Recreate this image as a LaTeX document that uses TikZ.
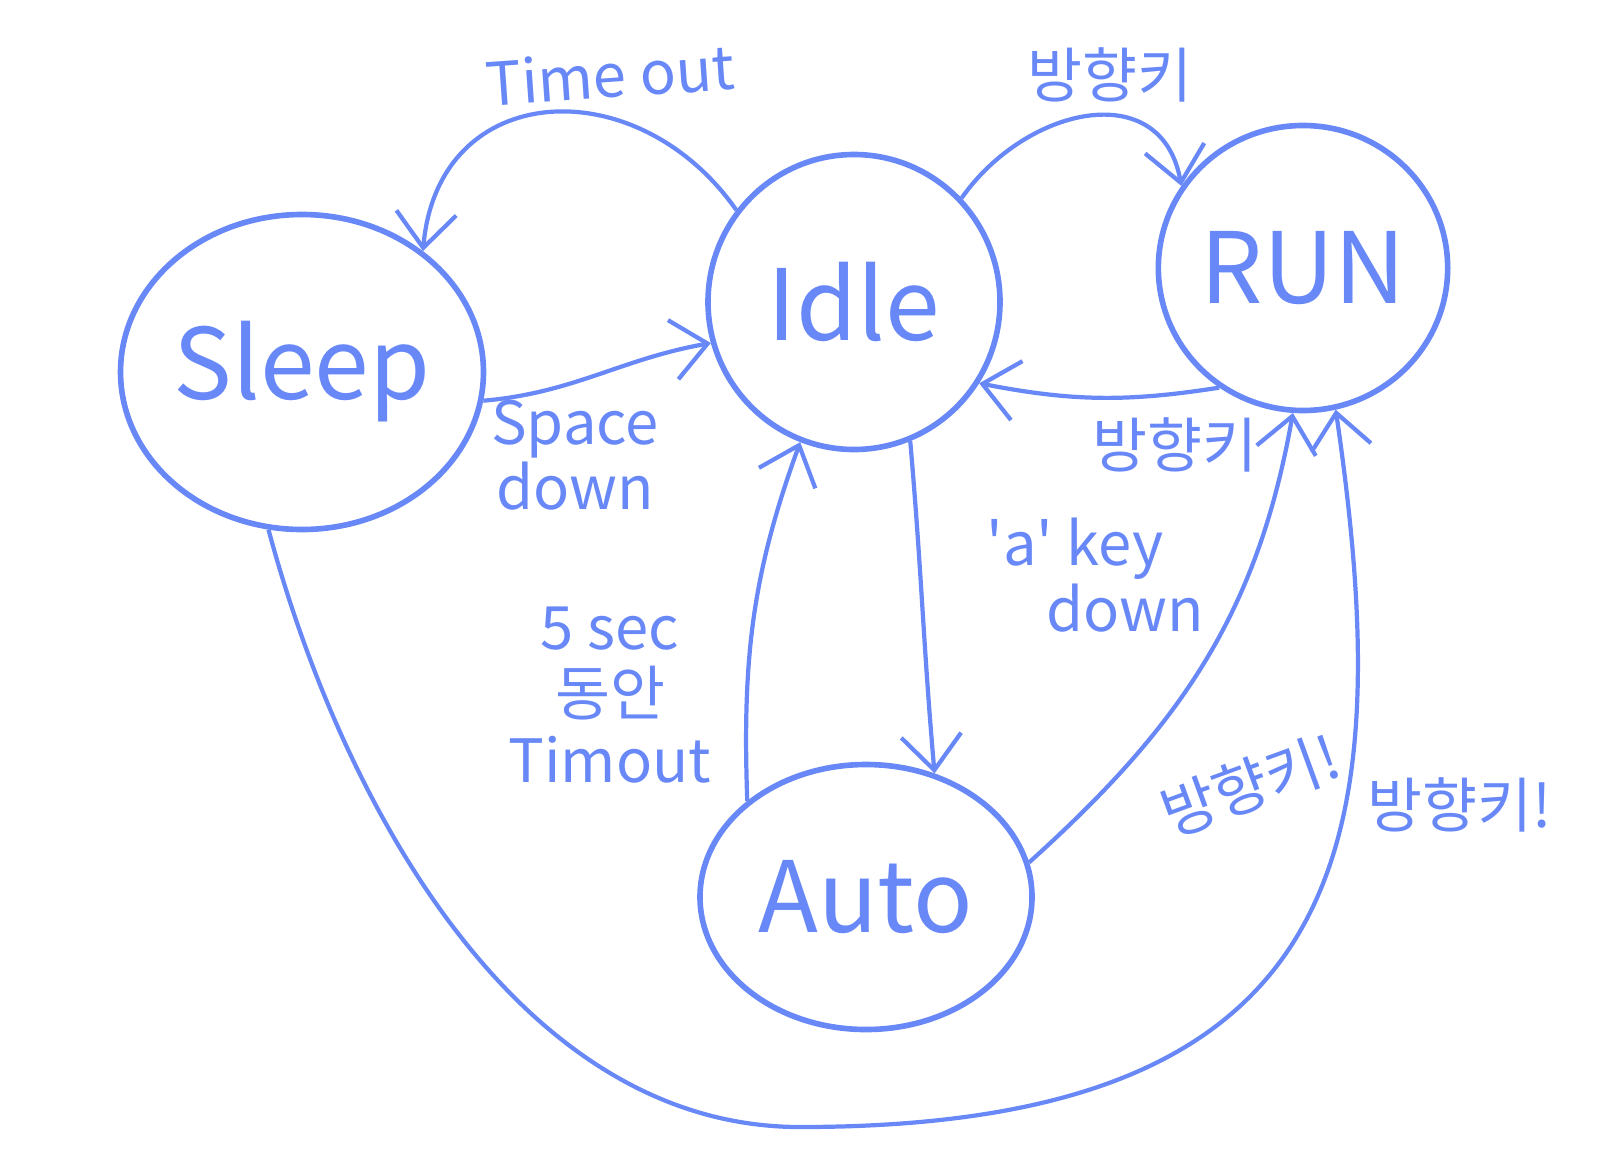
\documentclass[tikz,border=0pt]{standalone}
\usepackage{fontspec}
\setmainfont{Noto Sans CJK KR}
\newfontfamily\tickfont{Noto Sans CJK KR}
\usepackage{xcolor}
\usetikzlibrary{arrows.meta, positioning, shapes.geometric, calc}
\definecolor{penblue}{RGB}{104,136,247}

\begin{document}
\begin{tikzpicture}[every node/.style={text=penblue},
    state/.style={ellipse, draw=penblue, line width=1.6pt, inner sep=0pt, font=\fontsize{28}{30}\selectfont},
    trans/.style={-{Straight Barb[length=3.5mm, width=6mm, line width=1.2pt]}, penblue, line width=1.2pt},
    lbl/.style={font=\fontsize{17}{19}\selectfont, align=center}]
            \useasboundingbox (0,0) rectangle (16,-11.6);
            \node[state, minimum width=3.45cm, minimum height=3.15cm] (sleep) at (3.02,-3.72) {Sleep};
            \node[state, minimum width=2.92cm, minimum height=2.95cm] (idle) at (8.54,-3.02) {Idle};
            \node[state, minimum width=2.87cm, minimum height=2.85cm] (run) at (13.03,-2.68) {RUN};
            \node[state, minimum width=3.32cm, minimum height=2.65cm] (auto) at (8.66,-8.97) {Auto};
            \coordinate (bottom) at (8.0,-11.27);
            \draw[trans] (idle.142) to[out=125, in=85, looseness=1.4] (sleep.45);
            \draw[trans] (sleep.-9) to[out=5, in=190] (idle.196);
            \draw[trans] (idle.44) to[out=55, in=100, looseness=1.3] (run.146);
            \draw[trans] (run.235) to[bend left=10] (idle.-33);
            \draw[trans] (idle.-68) to[out=-85, in=95] (auto.61);
            \draw[trans] (auto.141) to[out=92, in=-110] (idle.249);
            \draw[trans] (auto.12) to[out=42, in=-100] (run.266);
            \draw[trans] (sleep.258) to[out=-75, in=180, looseness=0.9] (bottom)
                .. controls (13.5,-11.27) and (14.0,-8.5) .. (run.283);
            \node[lbl, rotate=4] (ltimeout) at (6.1,-0.75) {Time out};
            \node[lbl] (lkeytop) at (11.1,-0.75) {방향키};
            \node[lbl, font=\fontsize{17}{17}\selectfont] (lspace) at (5.75,-4.55) {Space\\down};
            \node[lbl] (lkeyleft) at (11.75,-4.45) {방향키};
            \node[lbl] (lakey) at (10.75,-5.75) {{\tickfont'}a{\tickfont'} key\\\hspace*{1cm}down};
            \node[lbl] (lfive) at (6.1,-6.95) {5 sec\\동안\\Timout};
            \node[lbl, rotate=20] (lkeyauto) at (12.5,-7.85) {방향키!};
            \node[lbl] (lkeyrun) at (14.6,-8.05) {방향키!};
        \end{tikzpicture}
\end{document}
